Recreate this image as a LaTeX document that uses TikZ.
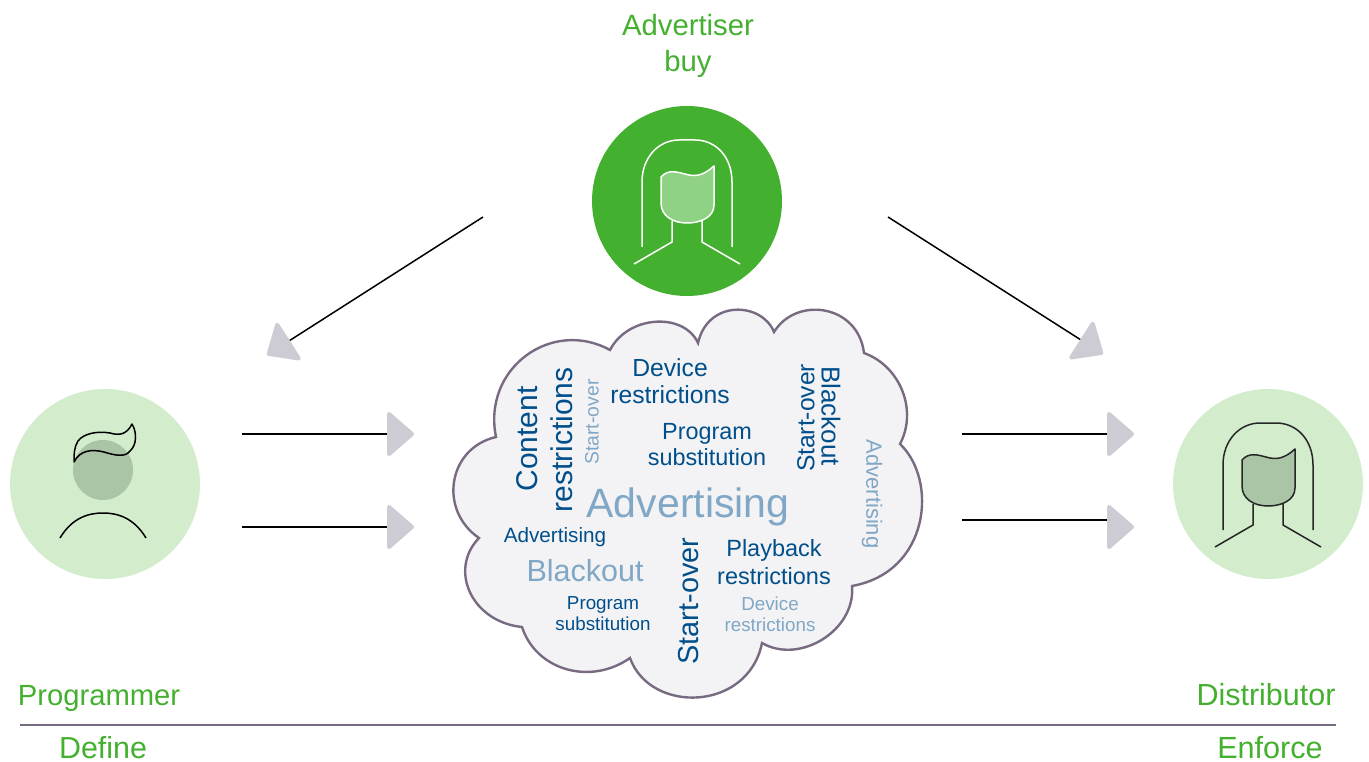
\documentclass[tikz,border=0pt]{standalone}
\usepackage{fontspec}
\setmainfont{Liberation Sans}
\usetikzlibrary{arrows.meta}
\definecolor{grn}{HTML}{44B02F}
\definecolor{lgrn}{HTML}{D2ECCC}
\definecolor{mgrn}{HTML}{8FD283}
\definecolor{dface}{HTML}{AAC4A6}
\definecolor{cloudf}{HTML}{F3F3F6}
\definecolor{cloudl}{HTML}{786A80}
\definecolor{headc}{HTML}{CDCBD3}
\definecolor{dk}{HTML}{004F8A}
\definecolor{lt}{HTML}{80A7C5}
\newcommand{\fs}[1]{\fontsize{#1}{#1}\selectfont}
\tikzset{
  x=1pt,y=-1pt,
  conn/.style={draw=black,line width=1.5pt,-{Triangle[length=28pt,width=48pt,line width=4pt,round,color=headc]}},
  disc/.style={circle,minimum size=190pt,inner sep=0pt,draw=none},
  role/.style={text=grn,align=center,inner sep=0pt},
  wd/.style={text=dk,align=center,inner sep=0pt},
  wl/.style={text=lt,align=center,inner sep=0pt},
  woman/.pic={
    \path[pic actions,draw=none] (-26,-24) .. controls (-19,-32) and (-10,-29) .. (-2,-27) .. controls (8,-24) and (16,-25) .. (27,-35) -- (27,4) .. controls (27,16) and (14,22) .. (0,22) .. controls (-14,22) and (-26,15) .. (-26,2) -- cycle;
    \draw[pic actions,fill=none,line width=1.5pt,line join=round] (-26,-24) .. controls (-19,-32) and (-10,-29) .. (-2,-27) .. controls (8,-24) and (16,-25) .. (27,-35) -- (27,4) .. controls (27,16) and (14,22) .. (0,22) .. controls (-14,22) and (-26,15) .. (-26,2) -- cycle;
    \draw[pic actions,fill=none,line width=1.5pt] (-45,46) -- (-45,-19) .. controls (-45,-44) and (-28,-61) .. (-8,-61) -- (8,-61) .. controls (29,-61) and (45,-44) .. (45,-19) -- (45,46);
    \draw[pic actions,fill=none,line width=1.5pt] (-15,20) -- (-15,41) -- (-53,63);
    \draw[pic actions,fill=none,line width=1.5pt] (15,20) -- (15,41) -- (53,63);
  },
}
\begin{document}
\begin{tikzpicture}
\useasboundingbox (0,0) rectangle (1369,762);
% cloud
\path[fill=cloudf,draw=cloudl,line width=2.4pt,line join=miter]
  (496,437) .. controls (482,368) and (552,318) .. (610,350)
  .. controls (628,315) and (684,312) .. (698,343)
  .. controls (708,299) and (762,302) .. (774,332)
  .. controls (796,296) and (858,304) .. (864,353)
  .. controls (900,366) and (918,410) .. (900,444)
  .. controls (938,480) and (930,572) .. (852,586)
  .. controls (856,630) and (800,665) .. (762,643)
  .. controls (748,712) and (650,714) .. (630,658)
  .. controls (590,686) and (536,670) .. (522,627)
  .. controls (472,622) and (448,570) .. (479,538)
  .. controls (438,510) and (448,448) .. (496,437) -- cycle;
% discs
\node[disc,fill=lgrn] (prog) at (105,484) {};
\node[disc,fill=grn] (adv) at (687,201) {};
\node[disc,fill=lgrn] (dist) at (1268,484) {};
% programmer icon
\fill[dface] (103,470) circle[radius=30];
\draw[black,line width=1.5pt,line join=round]
  (74,462) .. controls (80,450) and (92,449) .. (104,452)
  .. controls (114,455) and (125,458) .. (130,451)
  .. controls (137,445) and (137,432) .. (132,424)
  .. controls (127,434) and (120,436) .. (110,433)
  .. controls (98,431) and (84,433) .. (78,441)
  .. controls (74,447) and (74,455) .. (74,462) -- cycle;
\draw[black,line width=1.5pt] (60,538) .. controls (72,518) and (88,513) .. (103,513) .. controls (118,513) and (134,518) .. (146,538);
% women
\pic[draw=white,fill=mgrn] at (687,201) {woman};
\pic[draw=black!85,fill=dface] at (1268,484) {woman};
% coordinates and connectors
\coordinate (a1s) at (242,434); \coordinate (a1e) at (414,434);
\coordinate (a2s) at (242,527); \coordinate (a2e) at (414,527);
\coordinate (a3s) at (962,434); \coordinate (a3e) at (1134,434);
\coordinate (a4s) at (962,520); \coordinate (a4m) at (1108,520);
\coordinate (a4b) at (1107,527); \coordinate (a4e) at (1134,527);
\coordinate (a5s) at (483,217); \coordinate (a5e) at (267,355);
\coordinate (a6s) at (888,217); \coordinate (a6e) at (1103,354);
\draw[conn] (a1s) -- (a1e);
\draw[conn] (a2s) -- (a2e);
\draw[conn] (a3s) -- (a3e);
\draw[black,line width=2.2pt] (a4s) -- (a4m);
\draw[conn,draw=headc] (a4b) -- (a4e);
\draw[conn] (a5s) -- (a5e);
\draw[conn] (a6s) -- (a6e);
% rule
\coordinate (rl) at (20,725); \coordinate (rr) at (1336,725);
\draw[cloudl,line width=2pt] (rl) -- (rr);
% labels
\node[role,font=\fs{29.3}] (t1) at (688,46) {Advertiser\\[7pt]buy};
\node[role,font=\fs{29.2}] (t2) at (99,698) {Programmer};
\node[role,font=\fs{30.4}] (t3) at (103,748) {Define};
\node[role,font=\fs{30.5}] (t4) at (1266,695) {Distributor};
\node[role,font=\fs{30.6}] (t5) at (1270,748) {Enforce};
% words
\node[wd,font=\fs{30},rotate=90] (w1) at (527,439) {Content};
\node[wd,font=\fs{30},rotate=90] (w2) at (562,440) {restrictions};
\node[wl,font=\fs{19.4},rotate=90] (w3) at (592,422) {Start-over};
\node[wd,font=\fs{24.7}] (w4) at (670,381) {Device\\[2pt]restrictions};
\node[wd,font=\fs{23.4}] (w5) at (707,445) {Program\\[2.5pt]substitution};
\node[wd,font=\fs{24.6},rotate=90] (w6) at (806,418) {Start-over};
\node[wd,font=\fs{26},rotate=-90] (w7) at (831,416) {Blackout};
\node[wl,font=\fs{22},rotate=-90] (w8) at (872,494) {Advertising};
\node[wl,font=\fs{41}] (w9) at (688,507) {Advertising};
\node[wd,font=\fs{20.7}] (w10) at (555,537) {Advertising};
\node[wl,font=\fs{30.5}] (w11) at (585,571) {Blackout};
\node[wd,font=\fs{18.8}] (w12) at (603,614) {Program\\[2pt]substitution};
\node[wd,font=\fs{28.9},rotate=90] (w13) at (689,601) {Start-over};
\node[wd,font=\fs{23.5}] (w14) at (774,562) {Playback\\[4pt]restrictions};
\node[wl,font=\fs{18.8}] (w15) at (770,614) {Device\\[2pt]restrictions};
\end{tikzpicture}
\end{document}
